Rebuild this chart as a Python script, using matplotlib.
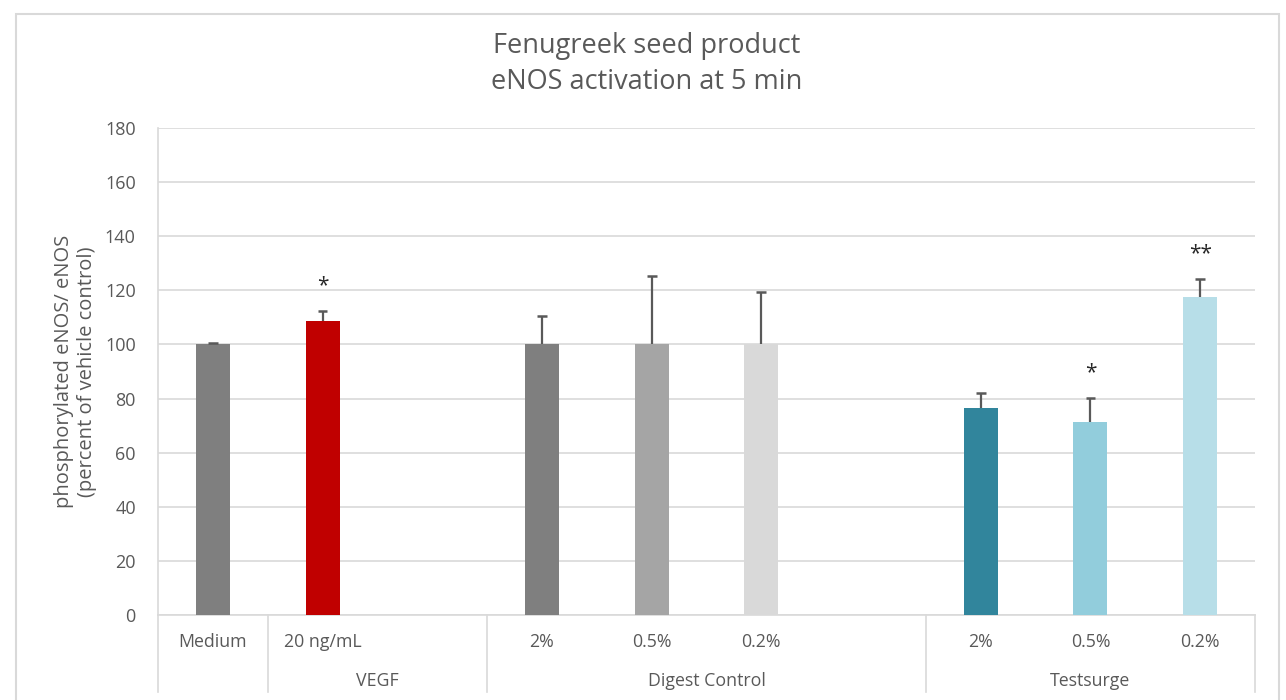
import matplotlib
import matplotlib.pyplot as plt
from matplotlib.lines import Line2D
from matplotlib.patches import Rectangle

matplotlib.rcParams['font.family'] = ['Open Sans', 'DejaVu Sans']

TEXT_GREY = "#595959"
GRID_GREY = "#d9d9d9"

# one slot per category; empty slots leave the gaps between groups
slots = ["Medium", "20 ng/mL", "", "2%", "0.5%", "0.2%", "", "2%", "0.5%", "0.2%"]
values = [100, 108.8, None, 100, 100, 100, None, 76.4, 71.4, 117.4]
errors = [0.5, 3.7, None, 10.5, 25.3, 19.5, None, 5.5, 8.7, 6.8]
colors = ["#7f7f7f", "#c00000", None, "#7f7f7f", "#a5a5a5", "#d9d9d9",
          None, "#31859c", "#92cddc", "#b7dee8"]
stars = ["", "*", "", "", "", "", "", "", "*", "**"]

groups = ["", "VEGF", "Digest Control", "Testsurge"]
group_spans = [(0, 1), (1, 3), (3, 7), (7, 10)]


def get_axis_fig():
    fig = plt.figure(figsize=(12.86, 7), dpi=100)
    ax = fig.add_axes([158 / 1286, 85 / 700, 1097 / 1286, 487 / 700])
    return fig, ax


def plot_bars(ax):
    for i, (v, e, c) in enumerate(zip(values, errors, colors)):
        if v is None:
            continue
        x = i + 0.5
        ax.bar(x, v, width=0.31, color=c, zorder=3)
        # upper error bar only, with a cap at the top
        ax.vlines(x, v, v + e, color="#595959", linewidth=1.6, zorder=4)
        ax.hlines(v + e, x - 0.045, x + 0.045, color="#595959", linewidth=1.8, zorder=4)
        if stars[i]:
            ax.text(x, v + e + 5.5, stars[i], ha="center", va="bottom",
                    fontsize=15, color="#262626")


def style_axis(ax):
    ax.set_xlim(0, 10)
    ax.set_ylim(0, 180)
    ax.set_yticks(range(0, 181, 20))
    ax.tick_params(axis="y", length=0, labelsize=13, labelcolor=TEXT_GREY, pad=16)
    ax.set_xticks([])
    ax.grid(axis="y", color=GRID_GREY, linewidth=1.2, zorder=0)
    ax.set_axisbelow(True)
    for side in ["top", "right", "bottom"]:
        ax.spines[side].set_visible(False)
    ax.spines["left"].set_color(GRID_GREY)
    ax.spines["left"].set_linewidth(1.2)
    ax.set_ylabel("phosphorylated eNOS/ eNOS\n(percent of vehicle control)",
                  fontsize=14.5, color=TEXT_GREY, labelpad=6, linespacing=1.2)


def category_axis(ax):
    trans = ax.get_xaxis_transform()
    depth = -77 / 487
    ax.add_line(Line2D([0, 10], [0, 0], transform=trans, color=GRID_GREY,
                       linewidth=1.2, clip_on=False, zorder=2))
    for x in [0, 1, 3, 7, 10]:
        ax.add_line(Line2D([x, x], [0, depth], transform=trans, color=GRID_GREY,
                           linewidth=1.2, clip_on=False))
    for i, label in enumerate(slots):
        if label:
            ax.text(i + 0.5, -27 / 487, label, transform=trans, ha="center",
                    va="center", fontsize=12.8, color=TEXT_GREY)
    for name, (a, b) in zip(groups, group_spans):
        if name:
            ax.text((a + b) / 2, -66 / 487, name, transform=trans, ha="center",
                    va="center", fontsize=12.8, color=TEXT_GREY)


fig, ax = get_axis_fig()
fig.patches.append(Rectangle((16 / 1286, -0.05), 1263 / 1286, 1.04 - 7 / 700,
                             transform=fig.transFigure, fill=False,
                             edgecolor=GRID_GREY, linewidth=1.5))
plot_bars(ax)
style_axis(ax)
category_axis(ax)
fig.text(647 / 1286, 1 - 64 / 700, "Fenugreek seed product\neNOS activation at 5 min",
         ha="center", va="center", fontsize=19.5, color=TEXT_GREY, linespacing=1.35)
fig.savefig("out.png", dpi=100)
